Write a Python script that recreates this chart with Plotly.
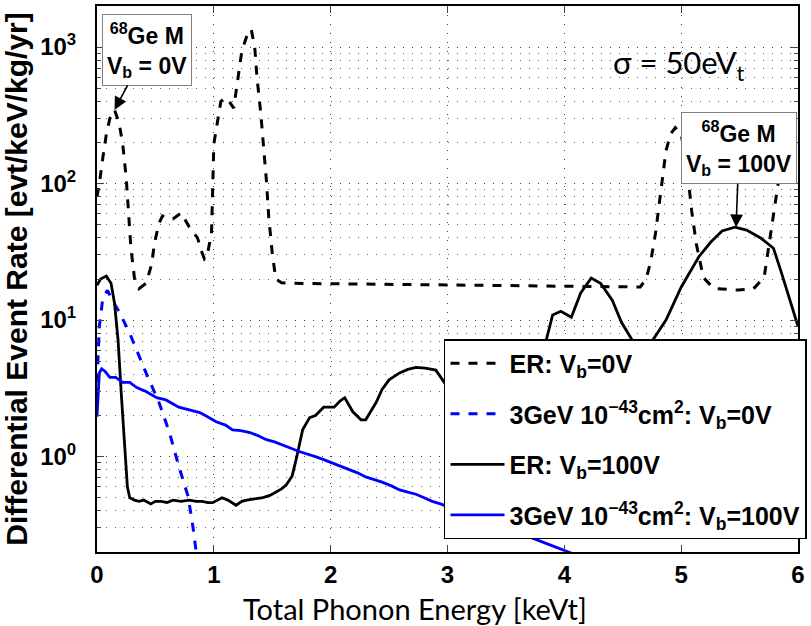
import plotly.graph_objects as go

# ---------------- data ----------------
er0_x = [0.0, 0.02, 0.05, 0.08, 0.11, 0.15, 0.19, 0.22, 0.25, 0.27, 0.29, 0.32, 0.36, 0.42, 0.47, 0.49,
         0.53, 0.56, 0.6, 0.65, 0.72, 0.79, 0.86, 0.9, 0.92, 0.94, 0.98, 1.0, 1.03, 1.06, 1.1, 1.14, 1.17,
         1.2, 1.24, 1.29, 1.32, 1.35, 1.37, 1.4, 1.43, 1.45, 1.47, 1.5, 1.53, 1.58, 1.65, 2.0, 2.5, 3.0,
         3.5, 4.0, 4.5, 4.65, 4.7, 4.74, 4.78, 4.83, 4.87, 4.91, 4.95, 5.0, 5.05, 5.09, 5.13, 5.19, 5.28,
         5.49, 5.62, 5.71, 5.75, 5.79, 5.83, 5.86, 5.93, 6.0]
er0_y = [80, 100, 155, 230, 300, 347, 275, 195, 110, 60, 34, 20.5, 17, 18.6, 26, 36,
         51, 58, 56, 55, 61, 48, 40, 31, 28, 29, 43, 195, 290, 400, 425, 390, 357,
         540, 940, 1260, 1350, 1000, 590, 340, 174, 105, 57, 31, 20, 18.8, 18.6, 18.5, 18.3, 18.1,
         17.9, 17.7, 17.4, 17.5, 20, 27, 43, 89, 174, 231, 257, 231, 131, 63, 36, 20.5, 17,
         16.6, 17, 20.5, 34, 57, 100, 155, 245, 260]

wimp0_x = [0.0, 0.02, 0.05, 0.09, 0.13, 0.19, 0.28, 0.36, 0.42, 0.53, 0.62, 0.7, 0.78, 0.82, 0.84, 0.86]
wimp0_y = [3.5, 9, 14.5, 16.5, 14, 11.5, 8, 5.4, 4.1, 2.5, 1.5, 0.85, 0.51, 0.31, 0.22, 0.17]

er100_x = [0.0, 0.03, 0.08, 0.12, 0.15, 0.18, 0.21, 0.24, 0.26, 0.28, 0.32, 0.36, 0.4, 0.46, 0.5, 0.55,
           0.6, 0.65, 0.72, 0.79, 0.85, 0.9, 0.95, 0.99, 1.03, 1.07, 1.12, 1.19, 1.24, 1.28, 1.35, 1.42,
           1.48, 1.53, 1.58, 1.62, 1.67, 1.71, 1.76, 1.82, 1.87, 1.94, 2.03, 2.08, 2.12, 2.19, 2.26, 2.3,
           2.39, 2.44, 2.5, 2.59, 2.66, 2.73, 2.81, 2.9, 2.96, 3.05, 3.2, 3.4, 3.6, 3.75, 3.85, 3.9, 3.97,
           4.06, 4.14, 4.23, 4.31, 4.41, 4.49, 4.57, 4.67, 4.77, 4.87, 5.0, 5.15, 5.25, 5.35, 5.46, 5.56,
           5.68, 5.79, 5.86, 5.93, 6.0]
er100_y = [18, 20, 21, 18.6, 13.3, 7.2, 2.7, 1.18, 0.6, 0.5, 0.48, 0.47, 0.48, 0.45, 0.47, 0.47,
           0.46, 0.48, 0.47, 0.48, 0.47, 0.47, 0.46, 0.46, 0.48, 0.5, 0.48, 0.44, 0.47, 0.48, 0.49, 0.5,
           0.52, 0.55, 0.58, 0.62, 0.72, 1.0, 1.57, 1.93, 2.0, 2.3, 2.3, 2.55, 2.7, 2.13, 1.86, 1.86,
           2.5, 3.1, 3.65, 4.1, 4.35, 4.5, 4.45, 4.3, 3.65, 2.8, 2.0, 1.6, 2.5, 4.5, 7.4, 10.9, 11.6,
           10.5, 15.8, 20.3, 18.6, 14, 9.6, 7.4, 5.5, 7.4, 10, 17.4, 29, 37, 45, 48, 45.6,
           40, 33.6, 22, 14, 9]

wimp100_x = [0.0, 0.02, 0.04, 0.07, 0.11, 0.16, 0.22, 0.28, 0.34, 0.42, 0.51, 0.59, 0.7, 0.79, 0.88,
             0.95, 1.02, 1.1, 1.16, 1.23, 1.31, 1.38, 1.45, 1.52, 1.59, 1.66, 1.73, 1.8, 1.87, 1.94,
             2.01, 2.08, 2.16, 2.23, 2.3, 2.37, 2.44, 2.52, 2.59, 2.66, 2.73, 2.8, 2.87, 2.94, 3.0,
             3.3, 3.6, 3.91, 4.1]
wimp100_y = [1.96, 4.1, 4.4, 4.2, 3.8, 3.8, 3.5, 3.5, 3.2, 3.0, 2.7, 2.6, 2.3, 2.2, 2.1,
             1.95, 1.8, 1.7, 1.57, 1.55, 1.5, 1.42, 1.33, 1.28, 1.22, 1.15, 1.09, 1.05, 1.0, 0.95,
             0.9, 0.86, 0.8, 0.76, 0.71, 0.68, 0.65, 0.61, 0.57, 0.55, 0.53, 0.5, 0.47, 0.45, 0.43,
             0.35, 0.28, 0.22, 0.19]

series_names = ["ER: V<sub>b</sub>=0V",
                "3GeV 10<sup>\u221243</sup>cm<sup>2</sup>: V<sub>b</sub>=0V",
                "ER: V<sub>b</sub>=100V",
                "3GeV 10<sup>\u221243</sup>cm<sup>2</sup>: V<sub>b</sub>=100V"]

y_tickvals = [1, 10, 100, 1000]
y_ticktext = ["10<sup>0</sup>", "10<sup>1</sup>", "10<sup>2</sup>", "10<sup>3</sup>"]
x_tickvals = [0, 1, 2, 3, 4, 5, 6]
x_title = "Total Phonon Energy [keVt]"
y_title = "Differential Event Rate [evt/keV/kg/yr]"

y_minor = [m * 10 ** e for e in range(-1, 4) for m in range(2, 10)]

# ---------------- figure ----------------
ARIAL = "Liberation Sans"
LATO = "Lato"
fig = go.Figure()

styles = [dict(color="black", dash="dash", width=3),
          dict(color="blue", dash="dash", width=3),
          dict(color="black", dash="solid", width=2.8),
          dict(color="blue", dash="solid", width=2.8)]
data = [(er0_x, er0_y), (wimp0_x, wimp0_y), (er100_x, er100_y), (wimp100_x, wimp100_y)]

for i, ((xs, ys), name, st) in enumerate(zip(data, series_names, styles)):
    fig.add_trace(go.Scatter(x=xs, y=ys, mode="lines", name=name, line=st,
                             legendgroup=f"g{i}"))

grid_dash = "1px,8px"
fig.update_xaxes(range=[0, 6], tickvals=x_tickvals, ticks="inside", ticklen=7, tickwidth=1,
                 showline=True, linecolor="black", linewidth=2, mirror="ticks",
                 showgrid=True, gridcolor="#444", gridwidth=1, griddash=grid_dash,
                 zeroline=False, automargin=False, ticklabelstandoff=0,
                 tickfont=dict(family=ARIAL, size=24, color="black", weight="bold"))
fig.update_yaxes(type="log", range=[-0.699, 3.301], tickvals=y_tickvals, ticktext=y_ticktext,
                 ticks="inside", ticklen=7, tickwidth=1,
                 showline=True, linecolor="black", linewidth=2, mirror="ticks",
                 showgrid=True, gridcolor="#444", gridwidth=1, griddash=grid_dash,
                 minor=dict(tickvals=y_minor, ticks="inside", ticklen=4, showgrid=True,
                            gridcolor="#666", gridwidth=1, griddash=grid_dash),
                 zeroline=False, automargin=False, ticklabelstandoff=14,
                 tickfont=dict(family=ARIAL, size=24, color="black", weight="bold"),
                 title=dict(text=y_title,
                            font=dict(family=ARIAL, size=30, color="black", weight="bold"),
                            standoff=4))

# x-axis title (placed as paper text to match its off-centre position in the original)
fig.add_annotation(x=0.4536, y=-0.1026, xref="paper", yref="paper", showarrow=False,
                   xanchor="center", yanchor="middle", text=x_title,
                   font=dict(family=LATO, size=29, color="black"))

ann_font = dict(family=ARIAL, size=23, color="black", weight="bold")
fig.add_annotation(x=0.15, y=2.54, xref="x", yref="y",
                   text="<sup>68</sup>Ge M<br>V<sub>b</sub> = 0V",
                   showarrow=True, arrowhead=2, arrowsize=1.6, arrowwidth=1.6, arrowcolor="black",
                   ax=32, ay=-60, font=ann_font, bgcolor="white", bordercolor="#808080",
                   borderwidth=1, borderpad=4, align="center")
fig.add_annotation(x=5.47, y=1.68, xref="x", yref="y",
                   text="<sup>68</sup>Ge M<br>V<sub>b</sub> = 100V",
                   showarrow=True, arrowhead=2, arrowsize=1.6, arrowwidth=1.6, arrowcolor="black",
                   ax=3, ay=-79, font=ann_font, bgcolor="white", bordercolor="#808080",
                   borderwidth=1, borderpad=4, align="center")
fig.add_annotation(x=4.98, y=2.87, xref="x", yref="y", showarrow=False,
                   text="\u03c3 = 50eV<sub>t</sub>",
                   font=dict(family=LATO, size=31, color="black"))

fig.update_layout(
    width=811, height=626,
    margin=dict(l=97, r=13, t=6, b=74, autoexpand=False),
    paper_bgcolor="white", plot_bgcolor="white",
    showlegend=True,
    legend=dict(x=0.495, xanchor="left", y=0.390, yanchor="top",
                bgcolor="white", bordercolor="black", borderwidth=1.5,
                font=dict(family=ARIAL, size=25, color="black", weight="bold"),
                tracegroupgap=15, itemwidth=54),
)

fig.write_html("out.html", config={"displayModeBar": False},
               post_script="document.body.style.margin='0px';")
